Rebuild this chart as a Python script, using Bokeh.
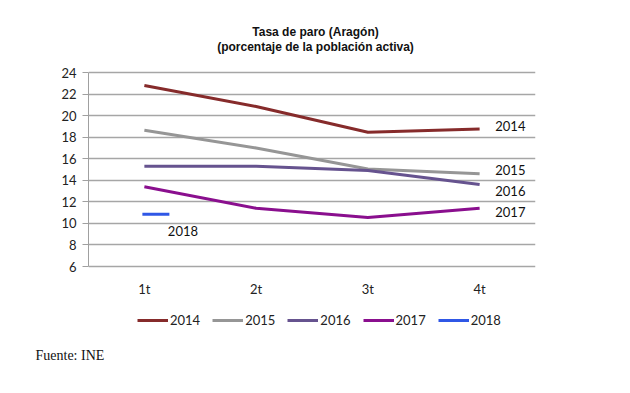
from bokeh.plotting import figure
from bokeh.models import Label, Legend, LegendItem, FixedTicker, Title
from bokeh.embed import file_html
from bokeh.resources import INLINE

quarters = ["1t", "2t", "3t", "4t"]
years = ["2014", "2015", "2016", "2017", "2018"]
v2014 = [22.8, 20.85, 18.45, 18.75]
v2015 = [18.65, 17.0, 15.05, 14.6]
v2016 = [15.3, 15.3, 14.9, 13.6]
v2017 = [13.4, 11.4, 10.55, 11.4]
v2018 = [10.85]
y_ticks = [6, 8, 10, 12, 14, 16, 18, 20, 22, 24]
title1 = "Tasa de paro (Aragón)"
title2 = "(porcentaje de la población activa)"
source_text = "Fuente: INE"

colors = ["#862b2b", "#969696", "#66538f", "#8a0f8e", "#2f57e6"]
series = [v2014, v2015, v2016, v2017, v2018]

# layout (page pixels)
FRAME_TOP = 10      # top of drawing frame
FRAME_BOTTOM = 345  # bottom of drawing frame
AX_TOP = 72         # where 24 sits
AX_BOTTOM = 266     # where 6 sits
y_lo, y_hi = y_ticks[0], y_ticks[-1]
ppu = (AX_BOTTOM - AX_TOP) / (y_hi - y_lo)
y_start = y_lo - (FRAME_BOTTOM - AX_BOTTOM) / ppu
y_end = y_hi + (AX_TOP - FRAME_TOP) / ppu

xpos = [i + 0.5 for i in range(len(quarters))]

p = figure(frame_width=447, frame_height=FRAME_BOTTOM - FRAME_TOP, output_backend="svg",
           toolbar_location=None, x_range=(0, 4), y_range=(y_start, y_end),
           min_border_left=88, min_border_right=79, min_border_top=FRAME_TOP,
           min_border_bottom=0)
p.title.text = ""
p.outline_line_color = None
p.background_fill_color = "white"

# axes
p.yaxis.ticker = FixedTicker(ticks=y_ticks)
p.yaxis.bounds = (y_lo, y_hi)
p.yaxis.axis_line_color = "#a0a0a0"
p.yaxis.major_tick_line_color = "#a0a0a0"
p.yaxis.major_tick_out = 6
p.yaxis.major_tick_in = 0
p.yaxis.minor_tick_line_color = None
p.yaxis.major_label_text_font = "Lato"
p.yaxis.major_label_text_font_size = "13px"
p.yaxis.major_label_text_color = "#222222"
p.yaxis.major_label_standoff = 6

xax = p.below[0]
xax.ticker = FixedTicker(ticks=xpos)
xax.major_label_overrides = {x: q for x, q in zip(xpos, quarters)}
xax.fixed_location = y_lo
xax.axis_line_color = None
xax.major_tick_line_color = None
xax.minor_tick_line_color = None
xax.major_tick_out = 0
xax.major_label_text_font = "Lato"
xax.major_label_text_font_size = "13px"
xax.major_label_text_color = "#222222"
xax.major_label_standoff = 14

p.xgrid.grid_line_color = None
p.ygrid.ticker = FixedTicker(ticks=y_ticks)
p.ygrid.grid_line_color = "#a6a6a6"
p.ygrid.grid_line_width = 1.5

leg_items = []
for yr, vals, c in zip(years, series, colors):
    r = p.line(xpos[:len(vals)], vals, line_color=c, line_width=3)
    leg_items.append(LegendItem(label=yr, renderers=[r]))
    if len(vals) == 1:
        p.scatter([xpos[0] + 0.103], vals, marker="dash", size=27,
                  line_color=c, line_width=3)

legend = Legend(items=leg_items, orientation="horizontal",
                location=(137 - 88, FRAME_BOTTOM - 328),
                glyph_width=31, glyph_height=16, label_height=16, label_standoff=2,
                spacing=12, padding=0, margin=0, border_line_color=None,
                background_fill_alpha=0, label_text_font="Lato",
                label_text_font_size="13px", label_text_color="#222222")
p.add_layout(legend, "center")

# source note below the frame (nearest to it), then the x axis panel
fuente = Title(text=source_text, align="left", offset=-53, text_font="Liberation Serif",
               text_font_style="normal", text_font_size="14px", text_color="#111111",
               standoff=0)
p.below = [fuente, xax]

# titles
for txt, py in [(title1, 31), (title2, 46)]:
    p.add_layout(Label(x=315 - 88, y=FRAME_BOTTOM - py, x_units="screen", y_units="screen",
                       text=txt, text_font="Liberation Sans", text_font_style="bold",
                       text_font_size="12px", text_align="center", text_baseline="middle",
                       text_color="#111111"))

# end labels
label_x = [3.64, 3.64, 3.64, 3.64, 0.71]
label_y = [19.0, 15.0, 13.05, 11.1, 9.25]
for yr, lx, ly in zip(years, label_x, label_y):
    p.add_layout(Label(x=lx, y=ly, text=yr, text_font="Lato", text_font_size="13px",
                       text_baseline="middle", text_align="left", text_color="#111111"))

open("out.html", "w").write(file_html(p, INLINE))
